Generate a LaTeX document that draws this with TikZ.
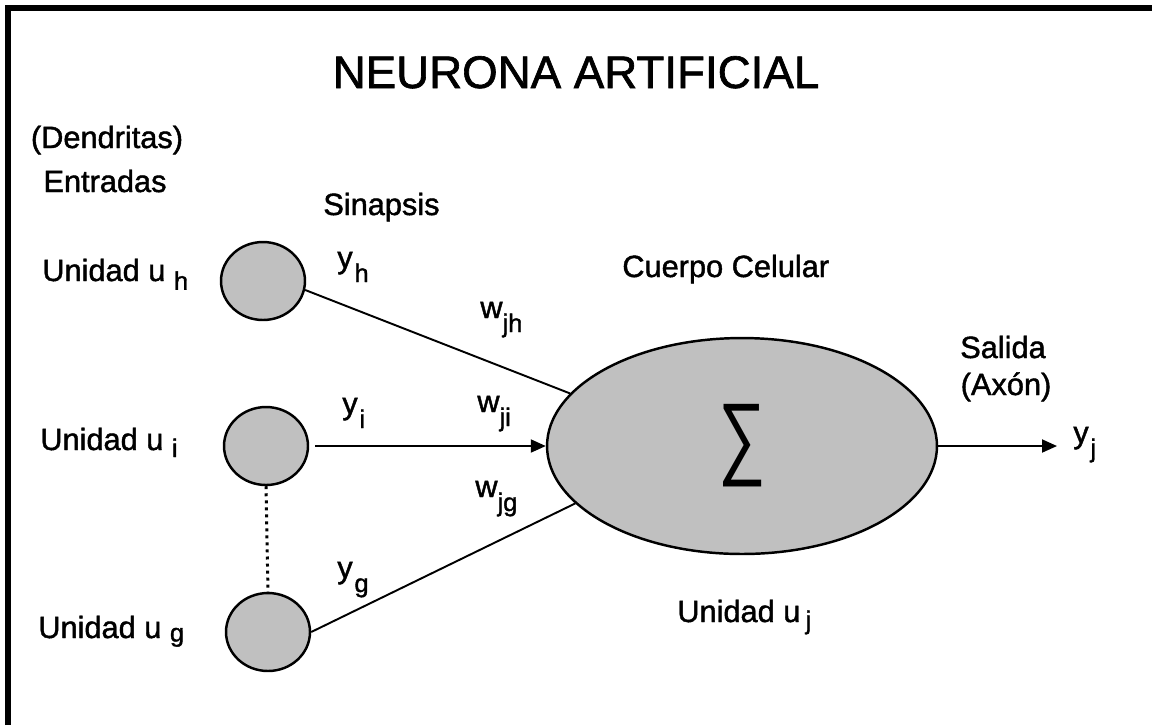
\documentclass[tikz,border=0pt]{standalone}
\usepackage{fontspec}
\setmainfont[FakeBold=1.4]{Liberation Sans}
\newfontfamily\plainfont{Liberation Sans}
\usepackage{graphicx}
\usetikzlibrary{arrows.meta,positioning,shapes.geometric}
\definecolor{silver}{RGB}{192,192,192}
\newcommand{\lowsub}[2][4pt]{\raisebox{-#1}{\fontsize{14.5}{15}\selectfont #2}}

\begin{document}
\begin{tikzpicture}[x=0.02cm, y=-0.02cm,
    lbl/.style={inner sep=0pt, anchor=base west, font=\fontsize{17.5}{21}\selectfont},
    unit/.style={draw, ellipse, fill=silver, line width=1.4pt, minimum width=1.68cm, minimum height=1.56cm},
    link/.style={line width=1.1pt},
    tip/.style={-{Triangle[length=0.3cm, width=0.26cm]}},
    frame/.style={line width=3.4pt}]
    \useasboundingbox (0,0) rectangle (1152,725);

    % Frame
    \draw[frame] (8,725) -- (8,8) -- (1152,8);

    % Title
    \node[inner sep=0pt, anchor=base, font=\fontsize{26}{30}\selectfont] (title) at (576,88) {NEURONA ARTIFICIAL};

    % Input units
    \node[unit] (h) at (263,281) {};
    \node[unit] (i) at (266,446) {};
    \node[unit] (g) at (268,632) {};

    % Cell body
    \node[unit, minimum width=7.8cm, minimum height=4.32cm] (body) at (742,446) {\resizebox*{27pt}{47pt}{\plainfont ∑}};
    \coordinate (out) at (1057,446);

    % Connectors
    \draw[link] (h.-12) -- (body.163);
    \draw[link, tip, shorten <=3.5pt] (i) -- (body);
    \draw[link] (g.east) -- (body.199);
    \draw[link, tip] (body) -- (out);
    \draw[line width=1.7pt, dash pattern=on 1.7pt off 2.3pt] (i.south) -- (g.north);

    % Labels
    \node[lbl, anchor=base] (dend) at (107,148) {(Dendritas)};
    \node[lbl, anchor=base] (entr) at (105,192) {Entradas};
    \node[lbl] (sinap) at (323,215) {Sinapsis};
    \node[lbl] (cuerpo) at (622,277) {Cuerpo Celular};
    \node[lbl, anchor=base] (salida) at (1003,358) {Salida};
    \node[lbl, anchor=base] (axon) at (1006,395) {(Axón)};

    \node[lbl] (lh) at (42,281) {Unidad u \lowsub[5pt]{h}};
    \node[lbl] (li) at (40,450) {Unidad u \lowsub{i}};
    \node[lbl] (lg) at (38,638) {Unidad u \lowsub[2pt]{g}};
    \node[lbl] (lj) at (677,622) {Unidad u\,\lowsub{j}};

    \node[lbl] (yh) at (337,268) {y\kern1pt\lowsub[8pt]{h}};
    \node[lbl] (yi) at (342,414) {y\kern1pt\lowsub[8pt]{i}};
    \node[lbl] (yg) at (337,578) {y\kern1pt\lowsub[8pt]{g}};
    \node[lbl] (wjh) at (480,318) {w\lowsub[8pt]{jh}};
    \node[lbl] (wji) at (477,412) {w\lowsub[8pt]{ji}};
    \node[lbl] (wjg) at (475,497) {w\lowsub[8pt]{jg}};
    \node[lbl] (yj) at (1073,443) {y\kern1pt\lowsub[8pt]{j}};
\end{tikzpicture}
\end{document}
